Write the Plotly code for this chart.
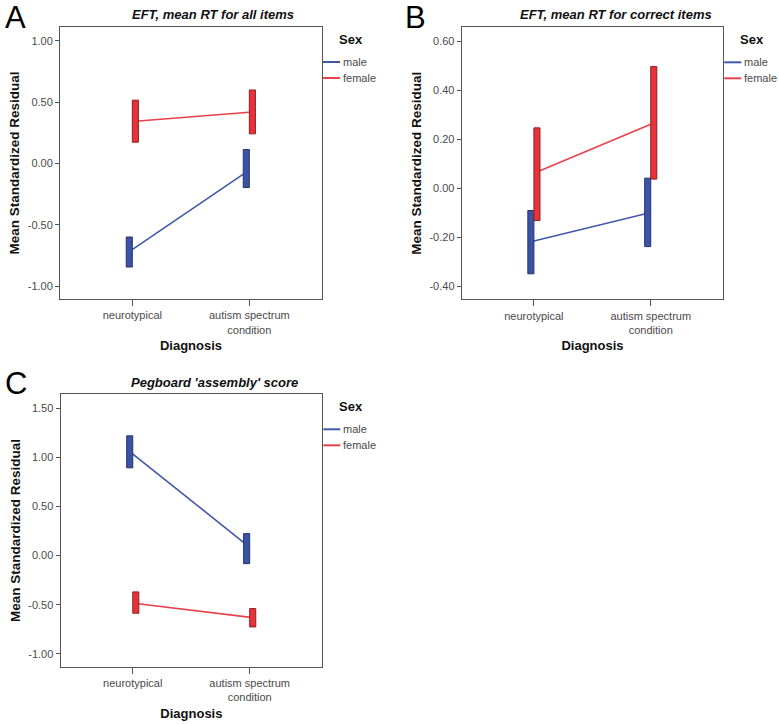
import plotly.graph_objects as go

# ---------------- data ----------------
categories = ["neurotypical", "autism spectrum<br>condition"]
sexes = ["male", "female"]

# Panel A: EFT, mean RT for all items
a_male_mean = [-0.72, -0.07]
a_male_lo = [-0.845, -0.196]
a_male_hi = [-0.60, 0.114]
a_female_mean = [0.345, 0.42]
a_female_lo = [0.174, 0.242]
a_female_hi = [0.517, 0.60]

# Panel B: EFT, mean RT for correct items
b_male_mean = [-0.218, -0.102]
b_male_lo = [-0.349, -0.238]
b_male_hi = [-0.091, 0.041]
b_female_mean = [0.066, 0.266]
b_female_lo = [-0.132, 0.037]
b_female_hi = [0.246, 0.496]

# Panel C: Pegboard 'assembly' score
c_male_mean = [1.06, 0.11]
c_male_lo = [0.894, -0.082]
c_male_hi = [1.22, 0.224]
c_female_mean = [-0.489, -0.632]
c_female_lo = [-0.587, -0.727]
c_female_hi = [-0.37, -0.54]

a_ticks = [-1.0, -0.5, 0.0, 0.5, 1.0]
a_ticklabels = ["-1.00", "-0.50", "0.00", "0.50", "1.00"]
b_ticks = [-0.4, -0.2, 0.0, 0.2, 0.4, 0.6]
b_ticklabels = ["-0.40", "-0.20", "0.00", "0.20", "0.40", "0.60"]
c_ticks = [-1.0, -0.5, 0.0, 0.5, 1.0, 1.5]
c_ticklabels = ["-1.00", "-0.50", "0.00", "0.50", "1.00", "1.50"]

titles = ["EFT, mean RT for all items", "EFT, mean RT for correct items",
          "Pegboard 'assembly' score"]
letters = ["A", "B", "C"]
legend_title = "Sex"

# ---------------- style ----------------
W, H = 779, 724
FONT = "Liberation Sans, Arial, sans-serif"
LINE_COL = {"male": "#4158aa", "female": "#e8414a"}
FILL_COL = {"male": "#3a53a4", "female": "#e8323a"}
EDGE_COL = {"male": "#26346c", "female": "#8e1f25"}
OFFSET = {"male": -0.026, "female": 0.026}
HALF_W = 0.026
XRANGE = [-0.618, 1.621]
FRAME = "#555555"

panels = [
    dict(male=(a_male_mean, a_male_lo, a_male_hi),
         female=(a_female_mean, a_female_lo, a_female_hi),
         ticks=a_ticks, labels=a_ticklabels, yr=[-1.106, 1.114],
         px=(60, 322), py=(27, 299)),
    dict(male=(b_male_mean, b_male_lo, b_male_hi),
         female=(b_female_mean, b_female_lo, b_female_hi),
         ticks=b_ticks, labels=b_ticklabels, yr=[-0.453, 0.656],
         px=(461.7, 723.3), py=(27.3, 299.3)),
    dict(male=(c_male_mean, c_male_lo, c_male_hi),
         female=(c_female_mean, c_female_lo, c_female_hi),
         ticks=c_ticks, labels=c_ticklabels, yr=[-1.132, 1.643],
         px=(60.5, 322.3), py=(394.3, 666.7)),
]
title_pos = [(213.5, 15), (615.5, 15), (214.5, 382.5)]
letter_pos = [(3, -2), (403, -2), (3, 364)]


def fx(px):
    return px / W


def fy(py):
    return 1 - py / H


fig = go.Figure()
layout = {}
annotations = []
shapes = []

for p_i, p in enumerate(panels):
    sfx = "" if p_i == 0 else str(p_i + 1)
    xa, ya = "x" + sfx, "y" + sfx
    xpos = list(range(len(categories)))
    # mean lines first (drawn underneath the CI boxes)
    for s in sexes:
        mean, lo, hi = p[s]
        fig.add_trace(go.Scatter(
            x=[c + OFFSET[s] for c in xpos], y=mean, mode="lines",
            line=dict(color=LINE_COL[s], width=1.6), name=s,
            showlegend=False, xaxis=xa, yaxis=ya, hoverinfo="skip"))
    # CI boxes
    for s in sexes:
        mean, lo, hi = p[s]
        bx, by = [], []
        for c, l, h in zip(xpos, lo, hi):
            x0, x1 = c + OFFSET[s] - HALF_W, c + OFFSET[s] + HALF_W
            bx += [x0, x1, x1, x0, x0, None]
            by += [l, l, h, h, l, None]
        fig.add_trace(go.Scatter(
            x=bx, y=by, mode="lines", fill="toself",
            fillcolor=FILL_COL[s], line=dict(color=EDGE_COL[s], width=1),
            showlegend=False, xaxis=xa, yaxis=ya, hoverinfo="skip"))

    x0p, x1p = p["px"]
    y0p, y1p = p["py"]
    layout["xaxis" + sfx] = dict(
        domain=[fx(x0p), fx(x1p)], range=XRANGE, anchor=ya,
        tickmode="array", tickvals=xpos, ticktext=categories,
        ticks="outside", ticklen=6, tickcolor=FRAME, tickwidth=1,
        showline=True, linecolor=FRAME, linewidth=1, mirror=True,
        showgrid=False, zeroline=False,
        tickfont=dict(family=FONT, size=11, color="#4a4a4a"),
        title=dict(text="<b>Diagnosis</b>", standoff=6,
                   font=dict(family=FONT, size=13, color="#111111")))
    layout["yaxis" + sfx] = dict(
        domain=[fy(y1p), fy(y0p)], range=p["yr"], anchor=xa,
        tickmode="array", tickvals=p["ticks"], ticktext=p["labels"],
        ticks="outside", ticklen=4, tickcolor=FRAME, tickwidth=1,
        showline=True, linecolor=FRAME, linewidth=1, mirror=True,
        showgrid=False, zeroline=False,
        tickfont=dict(family=FONT, size=11, color="#4a4a4a"),
        title=dict(text="<b>Mean Standardized Residual</b>", standoff=4,
                   font=dict(family=FONT, size=13.5, color="#111111")))

    # legend (title, short line keys, labels)
    annotations.append(dict(
        text="<b>" + legend_title + "</b>", xref="paper", yref="paper",
        x=fx(x1p + 15), y=fy(y0p + 12), xanchor="left", yanchor="middle",
        showarrow=False, font=dict(family=FONT, size=13, color="#111111")))
    for k, s in enumerate(sexes):
        ly = y0p + 35 + 16 * k
        shapes.append(dict(
            type="line", xref="paper", yref="paper",
            x0=fx(x1p + 1), x1=fx(x1p + 18), y0=fy(ly), y1=fy(ly),
            line=dict(color=LINE_COL[s], width=2)))
        annotations.append(dict(
            text=s, xref="paper", yref="paper",
            x=fx(x1p + 19), y=fy(ly), xanchor="left", yanchor="middle",
            showarrow=False, font=dict(family=FONT, size=11, color="#4a4a4a")))

    # chart title
    tx, ty = title_pos[p_i]
    annotations.append(dict(
        text="<b><i>" + titles[p_i] + "</i></b>", xref="paper", yref="paper",
        x=fx(tx), y=fy(ty), xanchor="center", yanchor="middle",
        showarrow=False, font=dict(family=FONT, size=13, color="#111111")))
    # panel letter
    lx, ly = letter_pos[p_i]
    annotations.append(dict(
        text=letters[p_i], xref="paper", yref="paper",
        x=fx(lx), y=fy(ly), xanchor="left", yanchor="top",
        showarrow=False, font=dict(family=FONT, size=31, color="#000000")))

fig.update_layout(
    width=W, height=H, margin=dict(l=0, r=0, t=0, b=0, autoexpand=False),
    paper_bgcolor="white", plot_bgcolor="white",
    annotations=annotations, shapes=shapes, **layout)

fig.write_html(
    "out.html",
    config={"displayModeBar": False},
    post_script="document.body.style.margin='0px';document.body.style.padding='0px';")
